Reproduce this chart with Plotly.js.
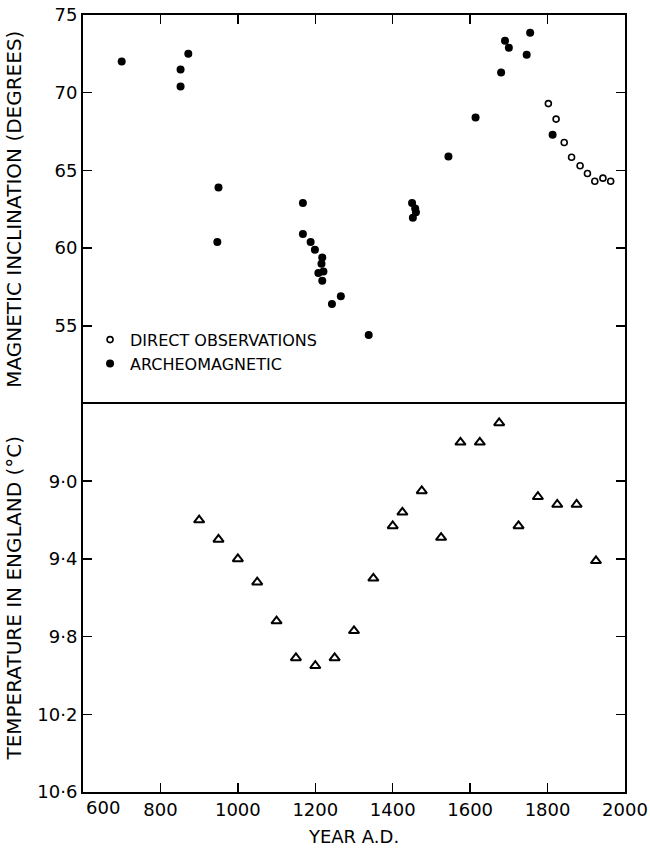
<!DOCTYPE html>
<html>
<head>
<meta charset="utf-8">
<script src="https://cdn.plot.ly/plotly-3.0.1.min.js"></script>
<style>
  html, body { margin: 0; padding: 0; background: #ffffff; }
  #chart { width: 650px; height: 856px; }
</style>
</head>
<body>
<div id="chart"></div>
<script>
// Archeomagnetic inclination estimates (year A.D., degrees)
const archYears = [700, 852, 852, 872, 947, 950, 1168, 1168, 1188, 1199, 1218, 1216, 1208, 1221, 1218, 1243, 1266, 1338, 1450, 1458, 1460, 1452, 1544, 1614, 1680, 1690, 1700, 1746, 1755, 1813];
const archIncl  = [72.0, 70.4, 71.5, 72.5, 60.4, 63.9, 62.9, 60.9, 60.4, 59.9, 59.4, 59.0, 58.4, 58.5, 57.9, 56.4, 56.9, 54.4, 62.9, 62.55, 62.3, 61.95, 65.9, 68.4, 71.3, 73.35, 72.9, 72.45, 73.85, 67.3];

// Directly observed inclination (London)
const directYears = [1802, 1822, 1843, 1862, 1884, 1903, 1922, 1943, 1963];
const directIncl  = [69.3, 68.3, 66.8, 65.85, 65.3, 64.8, 64.3, 64.5, 64.3];

// Mean temperature in England (deg C)
const tempYears = [900, 950, 1000, 1050, 1100, 1150, 1200, 1250, 1300, 1350, 1400, 1425, 1475, 1525, 1575, 1625, 1675, 1725, 1775, 1825, 1875, 1925];
const tempVals  = [9.20, 9.30, 9.40, 9.52, 9.72, 9.91, 9.95, 9.91, 9.77, 9.50, 9.23, 9.16, 9.05, 9.29, 8.80, 8.80, 8.70, 9.23, 9.08, 9.12, 9.12, 9.41];

// Axis ticks
const yearTicks = [600, 800, 1000, 1200, 1400, 1600, 1800, 2000];
const yearTickText = ['', '800', '1000', '1200', '1400', '1600', '1800', '2000'];
const inclTicks = [55, 60, 65, 70, 75];
const tempTicks = [9.0, 9.4, 9.8, 10.2, 10.6];
const tempTickText = ['9·0', '9·4', '9·8', '10·2', '10·6'];

const FONT = 'DejaVu Sans, Liberation Sans, sans-serif';

const traces = [
  {
    x: directYears, y: directIncl, xaxis: 'x2', yaxis: 'y2',
    type: 'scatter', mode: 'markers', name: 'DIRECT OBSERVATIONS',
    marker: { symbol: 'circle-open', size: 6, color: '#000', line: { width: 1.6 } }
  },
  {
    x: archYears, y: archIncl, xaxis: 'x2', yaxis: 'y2',
    type: 'scatter', mode: 'markers', name: 'ARCHEOMAGNETIC',
    marker: { symbol: 'circle', size: 8, color: '#000' }
  },
  {
    x: tempYears, y: tempVals, xaxis: 'x', yaxis: 'y',
    type: 'scatter', mode: 'markers', name: 'Temperature', showlegend: false,
    marker: { symbol: 'triangle-up-open', size: 9, color: '#000', line: { width: 2 } }
  }
];

const axisCommon = {
  showline: true, linecolor: '#000', linewidth: 2,
  ticks: 'inside', ticklen: 9, tickwidth: 1.5, tickcolor: '#000',
  showgrid: false, zeroline: false,
  tickfont: { family: FONT, size: 18, color: '#000' }
};

const layout = {
  width: 650, height: 856,
  margin: { l: 83, r: 25, t: 15, b: 64 },
  paper_bgcolor: '#fff', plot_bgcolor: '#fff',
  font: { family: FONT, color: '#000' },
  showlegend: true,
  legend: {
    x: 0.013, y: 0.604, xanchor: 'left', yanchor: 'top',
    bgcolor: 'rgba(0,0,0,0)', borderwidth: 0,
    font: { family: FONT, size: 16, color: '#000' },
    tracegroupgap: 0
  },
  // lower panel: year axis with labels; its mirrored line is the panel divider
  xaxis: Object.assign({}, axisCommon, {
    domain: [0, 1], anchor: 'y', range: [600, 2000],
    tickmode: 'array', tickvals: yearTicks, ticktext: yearTickText,
    mirror: true,
    title: { text: 'YEAR A.D.', font: { family: FONT, size: 18, color: '#000' }, standoff: 12 }
  }),
  // upper panel: ticks along the top frame only
  xaxis2: Object.assign({}, axisCommon, {
    domain: [0, 1], anchor: 'y2', range: [600, 2000], matches: 'x',
    side: 'top', tickmode: 'array', tickvals: yearTicks,
    showticklabels: false, mirror: false
  }),
  yaxis: Object.assign({}, axisCommon, {
    domain: [0, 0.5], anchor: 'x', range: [10.6, 8.6],
    tickmode: 'array', tickvals: tempTicks, ticktext: tempTickText,
    mirror: 'ticks',
    title: { text: 'TEMPERATURE IN ENGLAND (°C)', font: { family: FONT, size: 20, color: '#000' }, standoff: 10 }
  }),
  yaxis2: Object.assign({}, axisCommon, {
    domain: [0.5, 1], anchor: 'x2', range: [50, 75],
    tickmode: 'array', tickvals: inclTicks,
    mirror: 'ticks',
    title: { text: 'MAGNETIC INCLINATION (DEGREES)', font: { family: FONT, size: 20, color: '#000' }, standoff: 27 }
  }),
  annotations: [
    {
      text: '600', x: 600, xref: 'x', y: 0, yref: 'paper',
      xanchor: 'left', yanchor: 'top', xshift: 1, yshift: -3, showarrow: false,
      font: { family: FONT, size: 18, color: '#000' }
    }
  ]
};

Plotly.newPlot('chart', traces, layout, { displayModeBar: false, staticPlot: true });
</script>
</body>
</html>
